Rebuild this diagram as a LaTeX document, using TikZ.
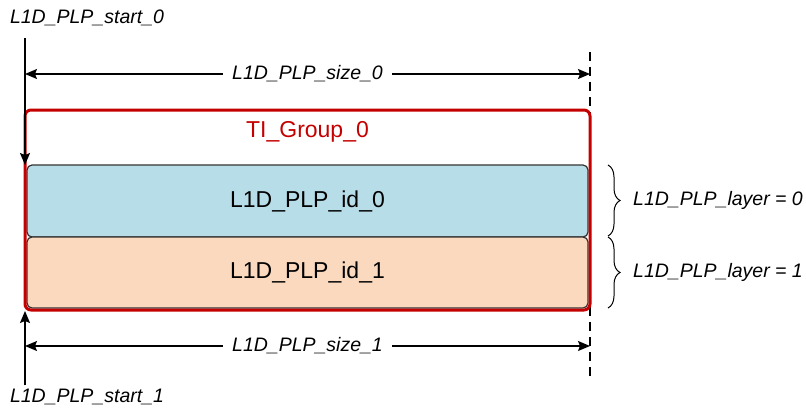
\documentclass[tikz,border=0pt]{standalone}
\usepackage{fontspec}
\setmainfont{Liberation Sans}
\usepackage{xcolor}
\usepackage{tikz}
\usetikzlibrary{positioning, arrows.meta, decorations.pathreplacing}
\definecolor{ink}{RGB}{0,0,0}
\definecolor{frame}{RGB}{51,51,51}
\definecolor{grpred}{RGB}{196,0,0}
\definecolor{layerblue}{RGB}{183,221,232}
\definecolor{layerorange}{RGB}{250,217,190}
\tikzset{
  grpbox/.style  ={rectangle, rounded corners=6pt, draw=grpred, line width=3pt,
                   minimum width=565pt, minimum height=200pt, inner sep=0pt},
  layerbox/.style={rectangle, rounded corners=5pt, draw=frame, line width=1.2pt,
                   minimum width=561pt, inner sep=0pt, font=\fontsize{23}{27}\selectfont},
  lbl/.style     ={font=\fontsize{19.5}{23}\selectfont\itshape, inner sep=0pt},
  dimlbl/.style  ={lbl, fill=white, inner xsep=9pt, inner ysep=2pt},
  arr/.style     ={-{Stealth[length=12pt, width=10pt, inset=2pt]}, line width=1.2pt, color=ink},
  dimarr/.style  ={{Stealth[length=12pt, width=10pt, inset=2pt]}-{Stealth[length=12pt, width=10pt, inset=2pt]},
                   line width=1.2pt, color=ink},
  guide/.style   ={line width=1.2pt, dash pattern=on 9pt off 6pt, color=ink},
  bracelbl/.style={decorate, decoration={brace, amplitude=12pt}, line width=1pt, color=ink},
}
\begin{document}
\begin{tikzpicture}[x=1pt, y=-1pt]
\useasboundingbox (0,0) rectangle (806,412);
% right guide, behind the boxes
\coordinate (gtop) at (590,52);
\coordinate (gbot) at (590,378);
\draw[guide] (gtop) -- (gbot);
% layers and group
\node[layerbox, fill=layerblue, minimum height=72pt] (id0) at (307.5,201) {L1D\_PLP\_id\_0};
\node[layerbox, fill=layerorange, minimum height=71pt] (id1) at (307.5,272.5) {L1D\_PLP\_id\_1};
\node[grpbox] (grp) at (307.5,210) {};
\node[font=\fontsize{23}{27}\selectfont, color=grpred, inner sep=0pt] (grpname) at (307.5,132) {TI\_Group\_0};
% start markers
\node[lbl] (start0) at (87,18) {L1D\_PLP\_start\_0};
\node[lbl] (start1) at (87,397) {L1D\_PLP\_start\_1};
\coordinate (s0top) at (25,38);
\coordinate (s0end) at (25,165);
\coordinate (s1bot) at (25,385);
\coordinate (s1end) at (25,311);
\draw[arr] (s0top) -- (s0end);
\draw[arr] (s1bot) -- (s1end);
% sizes
\coordinate (dl0) at (25,74);
\coordinate (dr0) at (590,74);
\coordinate (dl1) at (25,346);
\coordinate (dr1) at (590,346);
\draw[dimarr] (dl0) -- node[dimlbl] (size0) {L1D\_PLP\_size\_0} (dr0);
\draw[dimarr] (dl1) -- node[dimlbl] (size1) {L1D\_PLP\_size\_1} (dr1);
% layer braces
\coordinate (b0a) at (608,165);
\coordinate (b0b) at (608,236);
\coordinate (b1a) at (608,237);
\coordinate (b1b) at (608,308);
\draw[bracelbl] (b0a) -- (b0b);
\draw[bracelbl] (b1a) -- (b1b);
\node[lbl, anchor=west] (layer0) at (633,200.5) {L1D\_PLP\_layer = 0};
\node[lbl, anchor=west] (layer1) at (633,272.5) {L1D\_PLP\_layer = 1};
\end{tikzpicture}
\end{document}
